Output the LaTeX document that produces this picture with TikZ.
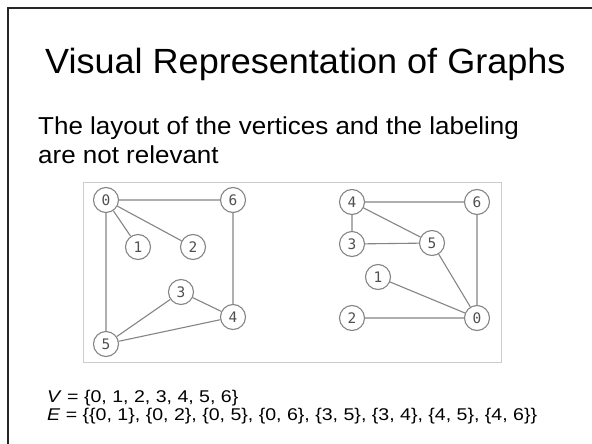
\documentclass[tikz,border=0pt]{standalone}
\usepackage{fontspec}
\setmainfont{Liberation Sans}
\newfontfamily\monofnt{DejaVu Sans Mono}
\definecolor{edgegray}{HTML}{858585}
\definecolor{labgray}{HTML}{505050}
\definecolor{boxgray}{HTML}{CCCCCC}
\begin{document}
\begin{tikzpicture}[x=1pt,y=-1pt,
  vtx/.style={circle,draw=edgegray,fill=white,line width=1.1pt,minimum size=25pt,inner sep=0pt,
    font=\monofnt\fontsize{14.5}{14.5}\selectfont,text=labgray},
  edg/.style={draw=edgegray,line width=1.1pt},
  txt/.style={anchor=base west,inner sep=0pt,text=black}]
\useasboundingbox (0,0) rectangle (592,444);
\fill[white] (0,0) rectangle (592,444);
\draw[line width=2pt,black!85] (8,445) -- (8,8) -- (593,8);
\node[txt,font=\fontsize{35}{40}\selectfont] (title) at (45,74) {\scalebox{1.03}[1]{Visual Representation of Graphs}};
\node[txt,font=\fontsize{24.5}{28}\selectfont] (l1) at (38,135) {\scalebox{1.06}[1]{The layout of the vertices and the labeling}};
\node[txt,font=\fontsize{24.5}{28}\selectfont] (l2) at (38,163) {\scalebox{1.06}[1]{are not relevant}};
\draw[boxgray,line width=1pt] (83,182) rectangle (501,362);
% left graph
\node[vtx] (a0) at (106,200) {0};
\node[vtx] (a6) at (233,200) {6};
\node[vtx] (a1) at (138,247) {1};
\node[vtx] (a2) at (193,247) {2};
\node[vtx] (a3) at (181,292) {3};
\node[vtx] (a4) at (233,317) {4};
\node[vtx] (a5) at (106,344) {5};
\path[edg] (a0)--(a6) (a0)--(a1) (a0)--(a2) (a0)--(a5) (a6)--(a4) (a3)--(a4) (a3)--(a5) (a4)--(a5);
% right graph
\node[vtx] (b4) at (352,202) {4};
\node[vtx] (b6) at (477,202) {6};
\node[vtx] (b3) at (352,244) {3};
\node[vtx] (b5) at (432,243) {5};
\node[vtx] (b1) at (378,277) {1};
\node[vtx] (b2) at (352,318) {2};
\node[vtx] (b0) at (477,318) {0};
\path[edg] (b4)--(b6) (b4)--(b3) (b4)--(b5) (b3)--(b5) (b5)--(b0) (b6)--(b0) (b1)--(b0) (b2)--(b0);
\node[txt,font=\fontsize{17}{18}\selectfont] (vset) at (47,402) {\scalebox{1.15}[1]{\textit{V} = \{0, 1, 2, 3, 4, 5, 6\}}};
\node[txt,font=\fontsize{17}{18}\selectfont] (eset) at (47,420) {\scalebox{1.15}[1]{\textit{E} = \{\{0, 1\}, \{0, 2\}, \{0, 5\}, \{0, 6\}, \{3, 5\}, \{3, 4\}, \{4, 5\}, \{4, 6\}\}}};
\end{tikzpicture}
\end{document}
